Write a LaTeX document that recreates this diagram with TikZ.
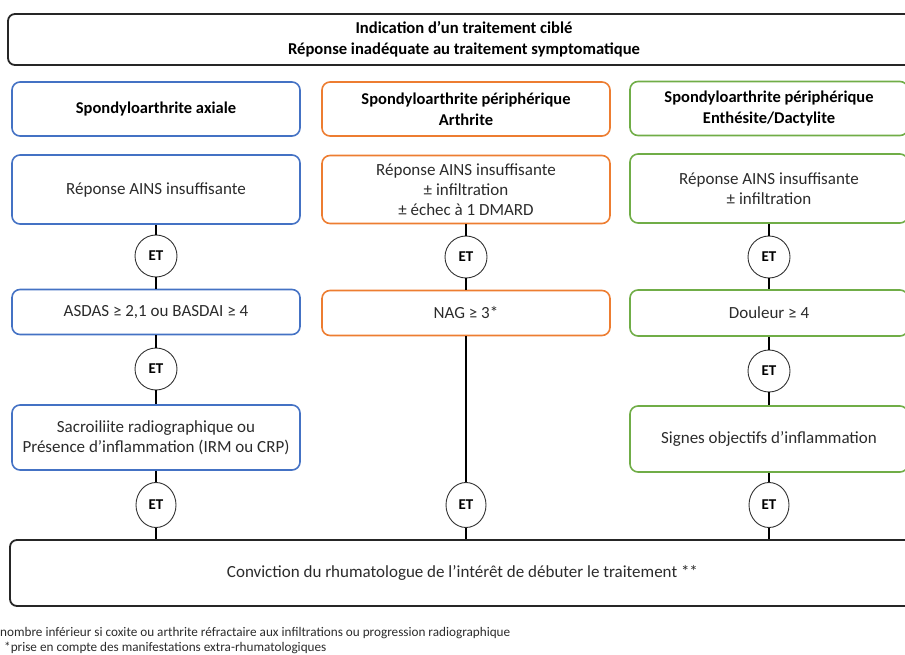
\documentclass[tikz,border=0pt]{standalone}
\usepackage{fontspec}
\setmainfont{Carlito}
\usetikzlibrary{shapes.geometric}
\definecolor{cblue}{HTML}{4472C4}
\definecolor{corange}{HTML}{ED7D31}
\definecolor{cgreen}{HTML}{70AD47}
\definecolor{txt}{HTML}{2B2B2B}
\begin{document}
\begin{tikzpicture}[x=1pt,y=-1pt,
  box/.style={draw, rounded corners=8pt, line width=1.6pt, align=center, inner sep=0pt, text=txt,
    font=\fontsize{17}{20}\selectfont},
  hbox/.style={box, text=black, font=\bfseries\fontsize{16.5}{21}\selectfont},
  blk/.style={draw=black!85, rounded corners=7pt, line width=1.8pt, align=center, inner sep=0pt},
  etnode/.style={draw=black!80, line width=0.9pt, fill=white, ellipse, inner sep=0pt,
    font=\bfseries\fontsize{15}{16}\selectfont},
  link/.style={line width=2pt, black}]
\useasboundingbox (0,0) rectangle (905,655);
\clip (0,0) rectangle (905,655);
% top box
\node[blk, minimum width=912pt, minimum height=51pt,
  font=\bfseries\fontsize{16.6}{21}\selectfont] (top) at (464,39.5)
  {Indication d’un traitement ciblé\\Réponse inadéquate au traitement symptomatique};
% headers
\node[hbox, draw=cblue, minimum width=288pt, minimum height=54pt] (h1) at (156,109) {Spondyloarthrite axiale};
\node[hbox, draw=corange, minimum width=288pt, minimum height=54pt] (h2) at (466,109) {Spondyloarthrite périphérique\\Arthrite};
\node[hbox, draw=cgreen, minimum width=278pt, minimum height=54pt] (h3) at (769,108.5) {Spondyloarthrite périphérique\\Enthésite/Dactylite};
% row 2
\node[box, draw=cblue, minimum width=288pt, minimum height=69pt] (a1) at (156,189.5) {Réponse AINS insuffisante};
\node[box, draw=corange, minimum width=288pt, minimum height=68pt] (b1) at (466,189.5) {Réponse AINS insuffisante\\± infiltration\\± échec à 1 DMARD};
\node[box, draw=cgreen, minimum width=278pt, minimum height=69pt] (c1) at (769,188.5) {Réponse AINS insuffisante\\± infiltration};
% ET 1
\node[etnode, minimum width=42pt, minimum height=42pt] (ea1) at (156,256) {ET};
\node[etnode, minimum width=42pt, minimum height=42pt] (eb1) at (466,257) {ET};
\node[etnode, minimum width=42pt, minimum height=42pt] (ec1) at (769,257) {ET};
% row 3
\node[box, draw=cblue, minimum width=288pt, minimum height=45pt] (a2) at (156,312) {ASDAS ≥ 2,1 ou BASDAI ≥ 4};
\node[box, draw=corange, minimum width=288pt, minimum height=45pt] (b2) at (466,313) {NAG ≥ 3*};
\node[box, draw=cgreen, minimum width=278pt, minimum height=46pt] (c2) at (769,313) {Douleur ≥ 4};
% ET 2
\node[etnode, minimum width=42pt, minimum height=42pt] (ea2) at (156,369) {ET};
\node[etnode, minimum width=42pt, minimum height=42pt] (ec2) at (769,371) {ET};
% row 4
\node[box, draw=cblue, minimum width=288pt, minimum height=65pt] (a3) at (156,437.5) {Sacroiliite radiographique ou\\Présence d’inflammation (IRM ou CRP)};
\node[box, draw=cgreen, minimum width=278pt, minimum height=66pt] (c3) at (769,439) {Signes objectifs d’inflammation};
% ET 3
\node[etnode, minimum width=40pt, minimum height=45pt] (ea3) at (156,505) {ET};
\node[etnode, minimum width=40pt, minimum height=45pt] (eb3) at (466,505) {ET};
\node[etnode, minimum width=40pt, minimum height=45pt] (ec3) at (769,505) {ET};
% bottom box
\node[blk, minimum width=905pt, minimum height=66pt,
  font=\fontsize{17}{20}\selectfont, text=txt] (bot) at (462.5,573)
  {Conviction du rhumatologue de l’intérêt de débuter le traitement **};
% connectors
\draw[link] (a1.south) -- (ea1.north);
\draw[link] (ea1.south) -- (a2.north);
\draw[link] (a2.south) -- (ea2.north);
\draw[link] (ea2.south) -- (a3.north);
\draw[link] (a3.south) -- (ea3.north);
\draw[link] (ea3.south) -- (ea3.south |- bot.north);
\draw[link] (b1.south) -- (eb1.north);
\draw[link] (eb1.south) -- (b2.north);
\draw[link] (b2.south) -- (eb3.north);
\draw[link] (eb3.south) -- (eb3.south |- bot.north);
\draw[link] (c1.south) -- (ec1.north);
\draw[link] (ec1.south) -- (c2.north);
\draw[link] (c2.south) -- (ec2.north);
\draw[link] (ec2.south) -- (c3.north);
\draw[link] (c3.south) -- (ec3.north);
\draw[link] (ec3.south) -- (ec3.south |- bot.north);
% footnotes
\node[anchor=base west, inner sep=0pt, font=\fontsize{13.2}{15}\selectfont, text=txt] (f1) at (0,636) {nombre inférieur si coxite ou arthrite réfractaire aux infiltrations ou progression radiographique};
\node[anchor=base west, inner sep=0pt, font=\fontsize{13.2}{15}\selectfont, text=txt] (f2) at (4,651) {*prise en compte des manifestations extra-rhumatologiques};
\end{tikzpicture}
\end{document}
